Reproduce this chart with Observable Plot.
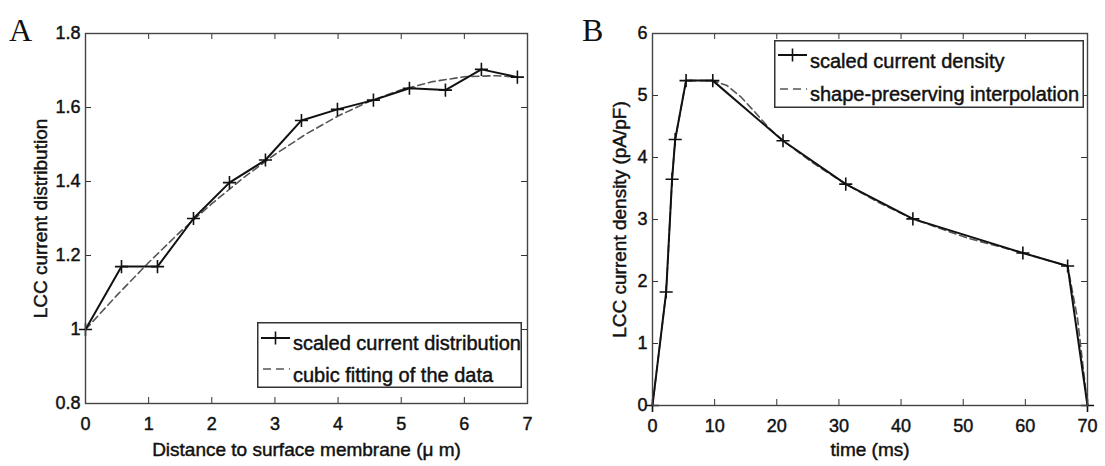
<!DOCTYPE html>
<html><head><meta charset="utf-8">
<script src="https://cdn.jsdelivr.net/npm/d3@7"></script>
<script src="https://cdn.jsdelivr.net/npm/@observablehq/plot@0.6"></script>
<style>
html,body{margin:0;padding:0;background:#fff;}
#wrap{position:relative;width:1105px;height:466px;overflow:hidden;font-family:"Liberation Sans",Arial,sans-serif;}
#wrap svg text{stroke:#111;stroke-width:0.45px;}
.panel{position:absolute;top:0;}
.letter{position:absolute;font-family:"Liberation Serif","Times New Roman",serif;font-size:32px;line-height:1;color:#111;}
.legend{position:absolute;overflow:visible;}
</style></head><body><div id="wrap"></div>
<script>
// ---- Panel A data ----
const distA = [0, 0.57, 1.14, 1.71, 2.28, 2.85, 3.42, 3.99, 4.56, 5.13, 5.70, 6.27, 6.84];
const currA = [1.0, 1.17, 1.17, 1.30, 1.397, 1.458, 1.565, 1.595, 1.62, 1.652, 1.647, 1.703, 1.682];
const fitDistA = [0, 0.5, 1, 1.5, 2, 2.5, 3, 3.5, 4, 4.5, 5, 5.5, 6, 6.5, 6.84];
const fitCurrA = [1.0, 1.093, 1.181, 1.264, 1.340, 1.410, 1.473, 1.529, 1.577, 1.617, 1.648, 1.670, 1.683, 1.686, 1.682];
const xTicksA = [0, 1, 2, 3, 4, 5, 6, 7];
const yTicksA = [0.8, 1, 1.2, 1.4, 1.6, 1.8];
const legendA = ["scaled current distribution", "cubic fitting of the data"];

// ---- Panel B data ----
const timeB = [0, 2.2, 3.15, 3.65, 5.4, 9.7, 21, 31.1, 41.9, 59.6, 66.8, 70];
const densB = [0, 1.83, 3.65, 4.29, 5.24, 5.24, 4.27, 3.57, 3.01, 2.46, 2.25, 0];
const interpTimeB = [0, 2.2, 3.15, 3.65, 5.4, 9.7, 12, 14.2, 16.5, 18.7, 21, 26, 31.1, 36.5, 41.9, 50.7, 59.6, 66.8, 68.4, 70];
const interpDensB = [0, 1.83, 3.65, 4.29, 5.24, 5.24, 5.16, 4.98, 4.73, 4.48, 4.27, 3.90, 3.57, 3.27, 3.01, 2.70, 2.46, 2.25, 1.40, 0];
const xTicksB = [0, 10, 20, 30, 40, 50, 60, 70];
const yTicksB = [0, 1, 2, 3, 4, 5, 6];
const legendB = ["scaled current density", "shape-preserving interpolation"];

const zip = (xs, ys) => xs.map((x, i) => ({x, y: ys[i]}));

function panel(o) {
  const innerW = o.width - o.ml - o.mr, innerH = o.height - o.mt - o.mb, tk = 6;
  const pts = zip(o.xs, o.ys), fit = zip(o.fx, o.fy);
  return Plot.plot({
    width: o.width, height: o.height,
    marginLeft: o.ml, marginRight: o.mr, marginTop: o.mt, marginBottom: o.mb,
    x: {domain: o.xd}, y: {domain: o.yd},
    style: {background: "transparent", color: "#111", fontFamily: '"Liberation Sans", Arial, sans-serif', fontSize: "18px", overflow: "visible"},
    marks: [
      Plot.tickX(o.xt, {x: d => d, insetTop: innerH - tk, stroke: "#333", strokeWidth: 1}),
      Plot.tickX(o.xt, {x: d => d, insetBottom: innerH - tk, stroke: "#333", strokeWidth: 1}),
      Plot.tickY(o.yt, {y: d => d, insetRight: innerW - tk, stroke: "#333", strokeWidth: 1}),
      Plot.tickY(o.yt, {y: d => d, insetLeft: innerW - tk, stroke: "#333", strokeWidth: 1}),
      Plot.axisX({ticks: o.xt, tickSize: 0, tickPadding: 14, tickFormat: d => String(d), label: null}),
      Plot.axisX({ticks: [], tickSize: 0, label: o.xl, labelAnchor: "center", labelArrow: "none", labelOffset: o.xlo, fontSize: 19}),
      Plot.axisY({ticks: o.yt, tickSize: 0, tickPadding: 5, tickFormat: d => String(d), label: null}),
      Plot.axisY({ticks: [], tickSize: 0, label: o.yl, labelAnchor: "center", labelArrow: "none", labelOffset: o.ylo, fontSize: 19}),
      Plot.line(fit, {x: "x", y: "y", stroke: "#555", strokeWidth: 1.6, strokeDasharray: "7,4"}),
      Plot.line(pts, {x: "x", y: "y", stroke: "#111", strokeWidth: 2}),
      Plot.dot(pts, {x: "x", y: "y", symbol: "plus", r: 4.3, stroke: "#111", strokeWidth: 1.6}),
      Plot.frame({stroke: "#444", strokeWidth: 1.4})
    ]
  });
}

function legend(labels, o) {
  const ns = "http://www.w3.org/2000/svg";
  const svg = document.createElementNS(ns, "svg");
  svg.setAttribute("class", "legend");
  svg.setAttribute("width", o.w); svg.setAttribute("height", o.h);
  svg.style.left = o.left + "px"; svg.style.top = o.top + "px";
  const mk = (tag, attrs, text) => {
    const e = document.createElementNS(ns, tag);
    for (const k in attrs) e.setAttribute(k, attrs[k]);
    if (text) e.textContent = text;
    svg.appendChild(e); return e;
  };
  mk("rect", {x: 0.75, y: 0.75, width: o.w - 1.5, height: o.h - 1.5, fill: "#fff", stroke: "#333", "stroke-width": 1.5});
  mk("line", {x1: 4, x2: 33, y1: o.r1, y2: o.r1, stroke: "#111", "stroke-width": 2});
  mk("line", {x1: 18.5, x2: 18.5, y1: o.r1 - 6.5, y2: o.r1 + 6.5, stroke: "#111", "stroke-width": 1.6});
  mk("line", {x1: 6, x2: 33, y1: o.r2, y2: o.r2, stroke: "#555", "stroke-width": 1.6, "stroke-dasharray": "8,5"});
  const ts = {fill: "#111", "font-family": '"Liberation Sans", Arial, sans-serif', "font-size": 20};
  mk("text", {x: 36, y: o.b1, ...ts}, labels[0]);
  mk("text", {x: 36, y: o.b2, ...ts}, labels[1]);
  return svg;
}

const wrap = document.getElementById("wrap");

const A = panel({width: 560, height: 466, ml: 85, mr: 33, mt: 33, mb: 63,
  xs: distA, ys: currA, fx: fitDistA, fy: fitCurrA, xd: [0, 7], yd: [0.8, 1.8], xt: xTicksA, yt: yTicksA,
  xl: "Distance to surface membrane (\u03bc m)", yl: "LCC current distribution", xlo: 52, ylo: 52});
A.classList.add("panel"); A.style.left = "0px";
wrap.appendChild(A);

const B = panel({width: 545, height: 466, ml: 92, mr: 18, mt: 33, mb: 61,
  xs: timeB, ys: densB, fx: interpTimeB, fy: interpDensB, xd: [0, 70], yd: [0, 6], xt: xTicksB, yt: yTicksB,
  xl: "time (ms)", yl: "LCC current density (pA/pF)", xlo: 50, ylo: 40});
B.classList.add("panel"); B.style.left = "560px";
wrap.appendChild(B);

wrap.appendChild(legend(legendA, {left: 257, top: 322, w: 265, h: 66, r1: 16, r2: 47, b1: 28, b2: 60}));
wrap.appendChild(legend(legendB, {left: 774, top: 40, w: 310, h: 68, r1: 15, r2: 49, b1: 28, b2: 61}));

const la = document.createElement("div"); la.className = "letter"; la.textContent = "A";
la.style.left = "9px"; la.style.top = "14px"; wrap.appendChild(la);
const lb = document.createElement("div"); lb.className = "letter"; lb.textContent = "B";
lb.style.left = "582px"; lb.style.top = "14px"; wrap.appendChild(lb);
</script></body></html>
